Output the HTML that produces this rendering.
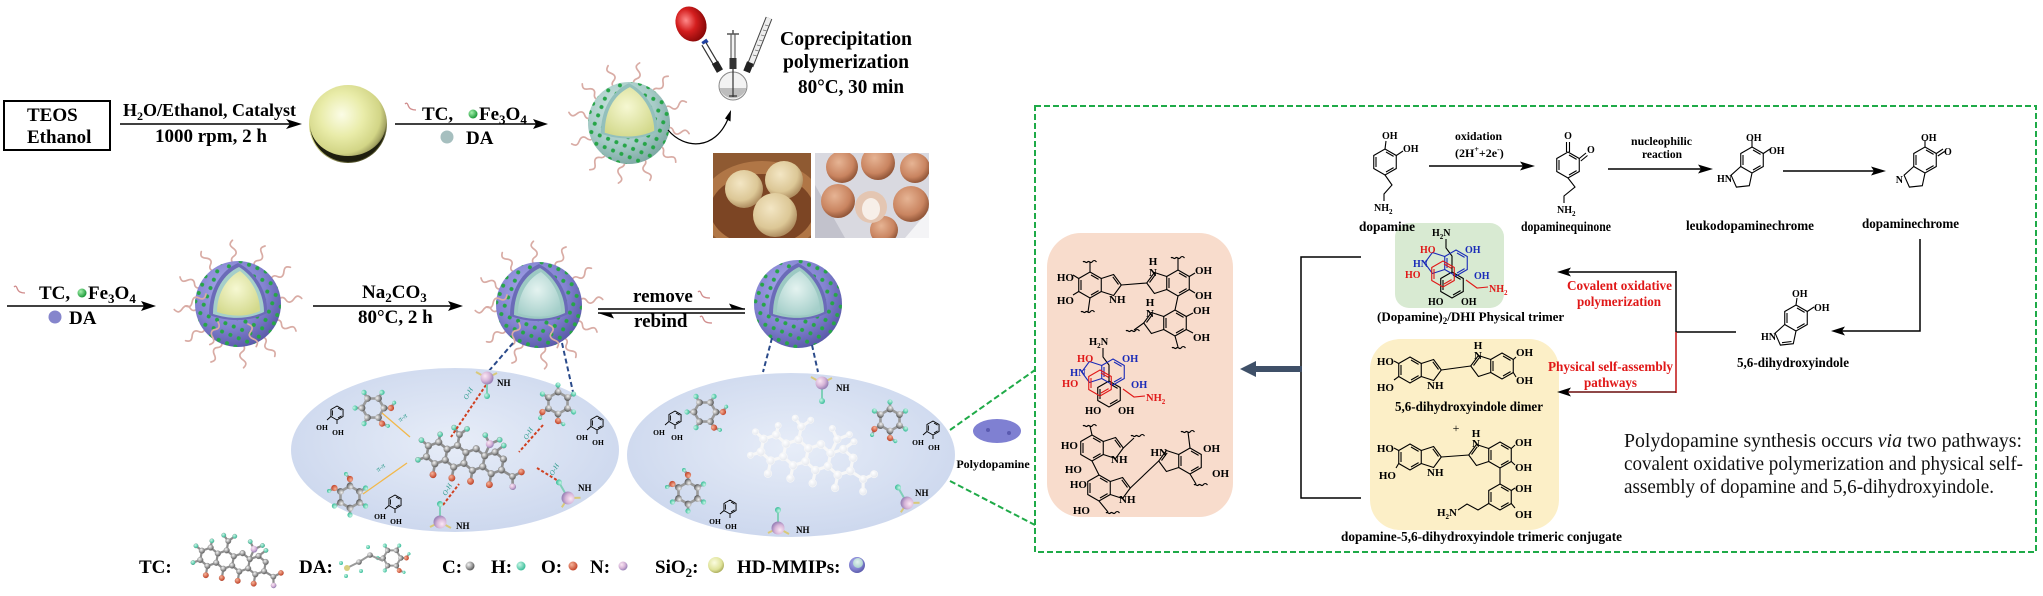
<!DOCTYPE html>
<html><head><meta charset="utf-8"><title>HD-MMIPs scheme</title>
<style>html,body{margin:0;padding:0;background:#fff;width:2043px;height:596px;overflow:hidden}svg{display:block}</style>
</head><body>
<svg xmlns="http://www.w3.org/2000/svg" width="2043" height="596" viewBox="0 0 2043 596" font-family="'Liberation Serif', serif">
<defs>
<radialGradient id="gY" cx="0.42" cy="0.38" r="0.62"><stop offset="0" stop-color="#fbfce6"/><stop offset="0.45" stop-color="#e9eca9"/><stop offset="0.8" stop-color="#d2d586"/><stop offset="0.93" stop-color="#a2a262"/><stop offset="1" stop-color="#505028"/></radialGradient>
<radialGradient id="gYl" cx="0.4" cy="0.35" r="0.65"><stop offset="0" stop-color="#fbfce0"/><stop offset="0.7" stop-color="#dfe39a"/><stop offset="1" stop-color="#aeb060"/></radialGradient>
<radialGradient id="gP" cx="0.4" cy="0.35" r="0.7"><stop offset="0" stop-color="#acacee"/><stop offset="0.6" stop-color="#8282d0"/><stop offset="1" stop-color="#5656a6"/></radialGradient>
<radialGradient id="gT" cx="0.4" cy="0.35" r="0.7"><stop offset="0" stop-color="#d2e8e4"/><stop offset="0.6" stop-color="#a6cbc7"/><stop offset="1" stop-color="#7aa5a1"/></radialGradient>
<radialGradient id="gCore" cx="0.45" cy="0.4" r="0.65"><stop offset="0" stop-color="#f6f8d2"/><stop offset="1" stop-color="#d3d98c"/></radialGradient>
<radialGradient id="gHol" cx="0.45" cy="0.4" r="0.65"><stop offset="0" stop-color="#e4f3f0"/><stop offset="1" stop-color="#a5cfca"/></radialGradient>
<radialGradient id="gE" cx="0.5" cy="0.45" r="0.55"><stop offset="0" stop-color="#e7edf8"/><stop offset="1" stop-color="#cdd8ee"/></radialGradient>
<radialGradient id="gG" cx="0.35" cy="0.35" r="0.65"><stop offset="0" stop-color="#f4f4f4"/><stop offset="0.6" stop-color="#a0a0a0"/><stop offset="1" stop-color="#5c5c5c"/></radialGradient>
<radialGradient id="gW" cx="0.35" cy="0.35" r="0.65"><stop offset="0" stop-color="#ffffff"/><stop offset="1" stop-color="#e6e9ef"/></radialGradient>
<radialGradient id="gH" cx="0.35" cy="0.35" r="0.65"><stop offset="0" stop-color="#c8f6e6"/><stop offset="1" stop-color="#3fbf9c"/></radialGradient>
<radialGradient id="gO" cx="0.35" cy="0.35" r="0.65"><stop offset="0" stop-color="#f7b49a"/><stop offset="1" stop-color="#c4472c"/></radialGradient>
<radialGradient id="gN" cx="0.35" cy="0.35" r="0.65"><stop offset="0" stop-color="#fbe8f4"/><stop offset="0.6" stop-color="#d6b4d8"/><stop offset="1" stop-color="#9c84b8"/></radialGradient>
<radialGradient id="gGr" cx="0.35" cy="0.35" r="0.65"><stop offset="0" stop-color="#a6f2ae"/><stop offset="1" stop-color="#1e9a3a"/></radialGradient>
<radialGradient id="gBal" cx="0.4" cy="0.35" r="0.65"><stop offset="0" stop-color="#ff8a8a"/><stop offset="0.5" stop-color="#d41e1e"/><stop offset="1" stop-color="#8a0808"/></radialGradient>
<radialGradient id="gBun" cx="0.4" cy="0.35" r="0.65"><stop offset="0" stop-color="#f3e6c4"/><stop offset="0.7" stop-color="#dcc796"/><stop offset="1" stop-color="#b08f62"/></radialGradient>
<radialGradient id="gBr" cx="0.4" cy="0.35" r="0.65"><stop offset="0" stop-color="#e6b494"/><stop offset="0.7" stop-color="#c98460"/><stop offset="1" stop-color="#94583a"/></radialGradient>
<pattern id="pd" width="9" height="9" patternUnits="userSpaceOnUse" patternTransform="rotate(22)"><circle cx="4.5" cy="4.5" r="2" fill="#26a548"/></pattern>
<path id="hr" d="M0,0 c3,-3.5 6,-3.5 8,0 s5,3.5 8,0 s5,-3.5 8,0" fill="none" stroke="#d9aca5" stroke-width="1.7" stroke-linecap="round"/>
<path id="hx" d="M0,-13 L11.26,-6.5 L11.26,6.5 L0,13 L-11.26,6.5 L-11.26,-6.5Z" fill="none"/>
<g id="bz"><use href="#hx"/><path d="M1,-10 L8.6,-5.6 M8.6,5.6 L1,10 M-9,5 L-9,-5" fill="none"/></g>
<path id="pR" d="M11.26,6.5 L23.6,10.5 L31.3,0 L23.6,-10.5 L11.26,-6.5" fill="none"/>
<path id="pRd" d="M28.5,-0.5 L22.8,-8.2" fill="none"/>
<path id="pLL" d="M0,13 L-2.7,25.7 L-15.6,27.1 L-20.9,15.2 L-11.26,6.5" fill="none"/>
<path id="wv" d="M0,0 c1.5,-2 3,2 4.5,0 s3,2 4.5,0 s3,-2 4.5,0" fill="none"/>
<path id="lbp" d="M0,-7 L6.06,-3.5 L6.06,3.5 L0,7 L-6.06,3.5 L-6.06,-3.5Z M1,-5 L4.6,-2.9 M4.6,2.9 L1,5 M-4.6,2.6 L-4.6,-2.6 M-6.06,3.5 L-10,7 M0,7 L0,11" fill="none" stroke="#000" stroke-width="0.9"/>
<g id="brg">
<path d="M0,-11 L9.5,-5.5 L9.5,5.5 L0,11 L-9.5,5.5 L-9.5,-5.5Z M0,-11 L0,-18 M9.5,-5.5 L15.6,-9 M-9.5,-5.5 L-15.6,-9 M-9.5,5.5 L-15.6,9 M9.5,5.5 L15.6,9 L21,6 M0,11 L0,18 L4,23" fill="none" stroke="#9a9a9a" stroke-width="2.6"/>
<circle cx="0" cy="-11" r="3.4" fill="url(#gG)"/><circle cx="9.5" cy="-5.5" r="3.4" fill="url(#gG)"/><circle cx="9.5" cy="5.5" r="3.4" fill="url(#gG)"/><circle cx="0" cy="11" r="3.4" fill="url(#gG)"/><circle cx="-9.5" cy="5.5" r="3.4" fill="url(#gG)"/><circle cx="-9.5" cy="-5.5" r="3.4" fill="url(#gG)"/>
<circle cx="0" cy="-18" r="2.6" fill="url(#gH)"/><circle cx="15.6" cy="-9" r="2.6" fill="url(#gH)"/><circle cx="-15.6" cy="-9" r="2.6" fill="url(#gH)"/><circle cx="-15.6" cy="9" r="2.6" fill="url(#gH)"/>
<circle cx="15.6" cy="9" r="3.1" fill="url(#gO)"/><circle cx="0" cy="18" r="3.1" fill="url(#gO)"/>
<circle cx="21" cy="6" r="2" fill="url(#gH)"/><circle cx="4" cy="23" r="2" fill="url(#gH)"/>
</g>
<g id="nh"><path d="M0,0 L-11,-6 M0,0 L10,-5" stroke="#d9c97a" stroke-width="2"/><path d="M0,0 L0,18" stroke="#7fcfb8" stroke-width="2"/><circle r="6.5" fill="url(#gN)"/><circle cy="18" r="3" fill="url(#gH)"/></g>
<g id="tc">
<path d="M-38.1,-5.5 L-28.6,-11 L-19.05,-5.5 L-9.5,-11 L0,-5.5 L9.5,-11 L19.05,-5.5 L28.6,-11 L38.1,-5.5 M-38.1,5.5 L-28.6,11 L-19.05,5.5 L-9.5,11 L0,5.5 L9.5,11 L19.05,5.5 L28.6,11 L38.1,5.5 M-38.1,-5.5 L-38.1,5.5 M-19.05,-5.5 L-19.05,5.5 M0,-5.5 L0,5.5 M19.05,-5.5 L19.05,5.5 M38.1,-5.5 L38.1,5.5 M-28.6,11 L-28.6,22 M-9.5,11 L-9.5,22 M9.5,11 L9.5,22 M28.6,11 L28.6,22 M38.1,5.5 L50,10 L58,4 M50,10 L52,20 M-9.5,-11 L-9.5,-22 L-16,-28 M-9.5,-22 L-3,-29 M19.05,-5.5 L22,-18 L16,-26 M22,-18 L31,-24 M28.6,-11 L36,-19 M-38.1,-5.5 L-46,-10 M-38.1,5.5 L-46,10 M-28.6,-11 L-28.6,-19" fill="none" stroke-width="2.6"/>
<g stroke-width="0.5">
<circle cx="-38.1" cy="-5.5" r="3.4"/><circle cx="-28.6" cy="-11" r="3.4"/><circle cx="-19.05" cy="-5.5" r="3.4"/><circle cx="-9.5" cy="-11" r="3.4"/><circle cx="0" cy="-5.5" r="3.4"/><circle cx="9.5" cy="-11" r="3.4"/><circle cx="19.05" cy="-5.5" r="3.4"/><circle cx="28.6" cy="-11" r="3.4"/><circle cx="38.1" cy="-5.5" r="3.4"/>
<circle cx="-38.1" cy="5.5" r="3.4"/><circle cx="-28.6" cy="11" r="3.4"/><circle cx="-19.05" cy="5.5" r="3.4"/><circle cx="-9.5" cy="11" r="3.4"/><circle cx="0" cy="5.5" r="3.4"/><circle cx="9.5" cy="11" r="3.4"/><circle cx="19.05" cy="5.5" r="3.4"/><circle cx="28.6" cy="11" r="3.4"/><circle cx="38.1" cy="5.5" r="3.4"/>
<circle cx="-28.6" cy="22" r="3.2"/><circle cx="-9.5" cy="22" r="3.2"/><circle cx="9.5" cy="22" r="3.2"/><circle cx="28.6" cy="22" r="3.2"/><circle cx="50" cy="10" r="3.2"/><circle cx="58" cy="4" r="3"/><circle cx="52" cy="20" r="3"/><circle cx="-9.5" cy="-22" r="3.2"/><circle cx="-16" cy="-28" r="2.6"/><circle cx="-3" cy="-29" r="2.6"/><circle cx="22" cy="-18" r="3.2"/><circle cx="16" cy="-26" r="2.6"/><circle cx="31" cy="-24" r="2.6"/><circle cx="36" cy="-19" r="2.6"/><circle cx="-46" cy="-10" r="2.6"/><circle cx="-46" cy="10" r="2.6"/><circle cx="-28.6" cy="-19" r="2.6"/>
</g>
</g>
<g id="tcx">
<circle cx="-28.6" cy="22" r="3.4" fill="url(#gO)"/><circle cx="-9.5" cy="22" r="3.4" fill="url(#gO)"/><circle cx="9.5" cy="22" r="3.4" fill="url(#gO)"/><circle cx="28.6" cy="22" r="3.4" fill="url(#gO)"/><circle cx="58" cy="4" r="3.2" fill="url(#gO)"/><circle cx="52" cy="20" r="3.2" fill="url(#gN)"/><circle cx="22" cy="-18" r="4" fill="url(#gN)"/>
<circle cx="-16" cy="-28" r="2.6" fill="url(#gH)"/><circle cx="-3" cy="-29" r="2.6" fill="url(#gH)"/><circle cx="16" cy="-26" r="2.6" fill="url(#gH)"/><circle cx="31" cy="-24" r="2.6" fill="url(#gH)"/><circle cx="36" cy="-19" r="2.6" fill="url(#gH)"/><circle cx="-46" cy="-10" r="2.6" fill="url(#gH)"/><circle cx="-46" cy="10" r="2.6" fill="url(#gH)"/><circle cx="-28.6" cy="-19" r="2.6" fill="url(#gH)"/>
</g>
<path id="c1" d="M0,-41 C-16,-34 -29,-16 -29,11 C-10,18 12,18 29,9 C30,-12 18,-32 0,-41Z"/>
<path id="c2" d="M1,-37 C-14,-30 -25,-14 -25,10 C-8,15.5 10,15.5 26,8 C26,-10 16,-28 1,-37Z"/>
<path id="c3" d="M2,-33 C-10,-27 -21,-12 -21,8 C-6,13 9,13 22,7 C22,-9 14,-24 2,-33Z"/>
<clipPath id="ph1"><rect x="713" y="153" width="98" height="85"/></clipPath>
<clipPath id="ph2"><rect x="815" y="153" width="114" height="85"/></clipPath>
<clipPath id="sy"><circle cx="348" cy="124" r="39"/></clipPath>
</defs>
<rect width="2043" height="596" fill="#fff"/>

<!-- ===== Row 1 ===== -->
<rect x="4" y="101" width="106" height="49" fill="none" stroke="#000" stroke-width="2"/>
<g font-weight="bold" font-size="19" fill="#000">
<text x="27" y="121">TEOS</text>
<text x="27" y="143">Ethanol</text>
<text x="123" y="116" font-size="18">H<tspan font-size="12" dy="4">2</tspan><tspan dy="-4">O/Ethanol, Catalyst</tspan></text>
<text x="155" y="142">1000 rpm, 2 h</text>
<text x="422" y="120">TC,</text>
<text x="479" y="120">Fe<tspan font-size="13" dy="4">3</tspan><tspan dy="-4">O</tspan><tspan font-size="13" dy="4">4</tspan></text>
<text x="466" y="144">DA</text>
<text x="780" y="45" font-size="20" textLength="132" lengthAdjust="spacingAndGlyphs">Coprecipitation</text>
<text x="783" y="68" font-size="20" textLength="126" lengthAdjust="spacingAndGlyphs">polymerization</text>
<text x="798" y="93" font-size="20" textLength="106" lengthAdjust="spacingAndGlyphs">80°C, 30 min</text>
</g>
<line x1="120" y1="124" x2="292" y2="124" stroke="#000" stroke-width="1.5"/>
<path d="M302,124 L286,119 L290,124 L286,129Z" fill="#000"/>
<circle cx="348" cy="124" r="39" fill="url(#gY)"/>
<g clip-path="url(#sy)"><path d="M310,124 A38,38 0 0,0 386,124 A38,32 0 0,1 310,124Z" fill="#1e1e0e"/></g>
<path d="M405,104 q2,-2 3,1 t3,4 t5,1" stroke="#d08c8c" fill="none" stroke-width="1.3"/>
<circle cx="473" cy="114" r="4.5" fill="url(#gGr)"/>
<circle cx="447" cy="137" r="6.5" fill="#a6bfbf"/>
<line x1="395" y1="124" x2="538" y2="124" stroke="#000" stroke-width="1.5"/>
<path d="M548,124 L533,119 L536,124 L533,129Z" fill="#000"/>

<!-- sphere row1 -->
<g transform="translate(629,123)">
<use href="#hr" transform="rotate(-80) translate(37,0)"/><use href="#hr" transform="rotate(-50) translate(37,0)"/><use href="#hr" transform="rotate(-20) translate(37,0)"/><use href="#hr" transform="rotate(10) translate(37,0)"/><use href="#hr" transform="rotate(40) translate(37,0)"/><use href="#hr" transform="rotate(70) translate(37,0)"/><use href="#hr" transform="rotate(100) translate(37,0)"/><use href="#hr" transform="rotate(130) translate(37,0)"/><use href="#hr" transform="rotate(160) translate(37,0)"/><use href="#hr" transform="rotate(190) translate(37,0)"/><use href="#hr" transform="rotate(220) translate(37,0)"/><use href="#hr" transform="rotate(250) translate(37,0)"/>
<circle r="41" fill="url(#gT)"/><circle r="41" fill="url(#pd)"/>
<use href="#c1" fill="#93c0bc" transform="scale(0.97)"/>
<use href="#c2" fill="url(#gCore)" transform="scale(0.97)"/>
</g>
<path d="M668,130 C685,150 715,150 728,119" stroke="#000" stroke-width="1.2" fill="none"/>
<path d="M731,110 L730.5,121.5 L725,118.5Z" fill="#000"/>

<!-- flask -->
<ellipse cx="691" cy="24" rx="15" ry="18" transform="rotate(-25 691 24)" fill="url(#gBal)"/>
<rect x="702" y="40" width="6" height="4" fill="#2040a0" transform="rotate(-35 705 42)"/>
<path d="M704,44 L717,66" stroke="#333" stroke-width="6"/><path d="M704,44 L717,66" stroke="#fff" stroke-width="3.6"/>
<rect x="714" y="62" width="7" height="10" fill="#222" transform="rotate(-30 717 67)"/>
<path d="M733,34 L733,60" stroke="#444" stroke-width="5"/><path d="M733,34 L733,60" stroke="#f2f2f2" stroke-width="3"/>
<path d="M727,34 L739,34 M733,30 L733,34" stroke="#555" stroke-width="1.5"/>
<rect x="729.5" y="58" width="7" height="11" fill="#333"/>
<path d="M750,66 L769,18" stroke="#444" stroke-width="7"/><path d="M750,66 L769,18" stroke="#eeeeee" stroke-width="5"/>
<path d="M753,55 l4,1 M755,50 l4,1 M757,45 l4,1 M759,40 l4,1 M761,35 l4,1 M763,30 l4,1 M765,25 l4,1" stroke="#777" stroke-width="0.8"/>
<rect x="745" y="62" width="7" height="10" fill="#222" transform="rotate(22 748 67)"/>
<circle cx="733" cy="86" r="14" fill="#f3f3f3" stroke="#888" stroke-width="1"/>
<path d="M719.5,88 A14,14 0 0,0 746.5,88 Z" fill="#bdbdbd"/>
<path d="M733,69 L733,97 M729,96 L737,96" stroke="#333" stroke-width="1.2"/>

<!-- photos -->
<g clip-path="url(#ph1)">
<rect x="713" y="153" width="98" height="85" fill="#8f5a32"/>
<ellipse cx="762" cy="207" rx="62" ry="46" fill="#b07646"/>
<ellipse cx="762" cy="210" rx="52" ry="36" fill="#7c4524"/>
<circle cx="744" cy="189" r="19" fill="url(#gBun)"/>
<circle cx="784" cy="180" r="19" fill="url(#gBun)"/>
<circle cx="775" cy="215" r="22" fill="url(#gBun)"/>
</g>
<g clip-path="url(#ph2)">
<rect x="815" y="153" width="114" height="85" fill="#d9d9e0"/>
<path d="M815,185 L845,238 L815,238Z" fill="#c2c2cc"/>
<path d="M905,238 L929,210 L929,238Z" fill="#f4f4f6"/>
<circle cx="842" cy="167" r="16" fill="url(#gBr)"/>
<circle cx="878" cy="163" r="17" fill="url(#gBr)"/>
<circle cx="915" cy="168" r="15" fill="url(#gBr)"/>
<circle cx="838" cy="201" r="17" fill="url(#gBr)"/>
<circle cx="911" cy="204" r="18" fill="url(#gBr)"/>
<circle cx="884" cy="230" r="14" fill="url(#gBr)"/>
<circle cx="871" cy="207" r="16" fill="#e4c6b2"/>
<ellipse cx="871" cy="209" rx="9" ry="11" fill="#f7efe8"/>
</g>

<!-- ===== Row 2 ===== -->
<g font-weight="bold" font-size="19" fill="#000">
<text x="39" y="299">TC,</text>
<text x="88" y="299">Fe<tspan font-size="13" dy="4">3</tspan><tspan dy="-4">O</tspan><tspan font-size="13" dy="4">4</tspan></text>
<text x="69" y="324">DA</text>
<text x="362" y="298">Na<tspan font-size="13" dy="4">2</tspan><tspan dy="-4">CO</tspan><tspan font-size="13" dy="4">3</tspan></text>
<text x="358" y="323">80°C, 2 h</text>
<text x="633" y="302">remove</text>
<text x="634" y="327">rebind</text>
</g>
<path d="M14,287 q2,-2 3,1 t3,4 t5,1" stroke="#d08c8c" fill="none" stroke-width="1.3"/>
<circle cx="82" cy="293" r="4.5" fill="url(#gGr)"/>
<circle cx="55" cy="317" r="6.5" fill="#8585cc"/>
<line x1="7" y1="306" x2="146" y2="306" stroke="#000" stroke-width="1.5"/>
<path d="M156,306 L141,301 L144,306 L141,311Z" fill="#000"/>
<line x1="313" y1="306" x2="453" y2="306" stroke="#000" stroke-width="1.5"/>
<path d="M463,306 L448,301 L451,306 L448,311Z" fill="#000"/>
<path d="M598,309 L745,309 M598,313 L745,313" stroke="#000" stroke-width="1.4"/>
<path d="M745,309 L729,303.5 L732,309Z" fill="#000"/>
<path d="M598,313 L614,318.5 L611,313Z" fill="#000"/>
<path d="M698,292 q2,-2 3,1 t3,4 t6,1" stroke="#d08c8c" fill="none" stroke-width="1.3"/>
<path d="M700,317 q2,-2 3,1 t3,4 t6,1" stroke="#d08c8c" fill="none" stroke-width="1.3"/>

<!-- sphere 2 -->
<g transform="translate(238,304)">
<use href="#hr" transform="rotate(-95) translate(40,0)"/><use href="#hr" transform="rotate(-65) translate(40,0)"/><use href="#hr" transform="rotate(-35) translate(40,0)"/><use href="#hr" transform="rotate(-5) translate(40,0)"/><use href="#hr" transform="rotate(25) translate(40,0)"/><use href="#hr" transform="rotate(55) translate(40,0)"/><use href="#hr" transform="rotate(85) translate(40,0)"/><use href="#hr" transform="rotate(115) translate(40,0)"/><use href="#hr" transform="rotate(145) translate(40,0)"/><use href="#hr" transform="rotate(175) translate(40,0)"/><use href="#hr" transform="rotate(205) translate(40,0)"/><use href="#hr" transform="rotate(235) translate(40,0)"/>
<circle r="43" fill="url(#gP)"/><circle r="43" fill="url(#pd)"/>
<use href="#c1" fill="#6b6bb8"/><use href="#c2" fill="#a5cfca"/><use href="#c3" fill="url(#gCore)"/>
<use href="#hr" transform="translate(-20,18) rotate(110)"/><use href="#hr" transform="translate(10,20) rotate(70)"/><use href="#hr" transform="translate(-32,-10) rotate(150)"/>
</g>
<!-- sphere 3 -->
<g transform="translate(539,305)">
<use href="#hr" transform="rotate(-95) translate(40,0)"/><use href="#hr" transform="rotate(-65) translate(40,0)"/><use href="#hr" transform="rotate(-35) translate(40,0)"/><use href="#hr" transform="rotate(-5) translate(40,0)"/><use href="#hr" transform="rotate(25) translate(40,0)"/><use href="#hr" transform="rotate(55) translate(40,0)"/><use href="#hr" transform="rotate(85) translate(40,0)"/><use href="#hr" transform="rotate(115) translate(40,0)"/><use href="#hr" transform="rotate(145) translate(40,0)"/><use href="#hr" transform="rotate(175) translate(40,0)"/><use href="#hr" transform="rotate(205) translate(40,0)"/><use href="#hr" transform="rotate(235) translate(40,0)"/>
<circle r="43" fill="url(#gP)"/><circle r="43" fill="url(#pd)"/>
<use href="#c1" fill="#6b6bb8"/><use href="#c2" fill="#9cc9c3"/><use href="#c3" fill="url(#gHol)"/>
<use href="#hr" transform="translate(-20,18) rotate(110)"/><use href="#hr" transform="translate(10,20) rotate(70)"/><use href="#hr" transform="translate(-32,-10) rotate(150)"/>
</g>
<!-- sphere 4 -->
<g transform="translate(798,304)">
<circle r="44" fill="url(#gP)"/><circle r="44" fill="url(#pd)"/>
<use href="#c1" fill="#6b6bb8"/><use href="#c2" fill="#9cc9c3"/><use href="#c3" fill="url(#gHol)"/>
</g>

<!-- dashed connectors -->
<g stroke="#2a4a8a" stroke-width="2" stroke-dasharray="5 3" fill="none">
<path d="M513,343 L488,372"/><path d="M562,343 L573,392"/><path d="M772,338 L763,372"/><path d="M812,345 L818,372"/>
</g>

<!-- ellipses -->
<ellipse cx="455" cy="450" rx="164" ry="82" fill="url(#gE)"/>
<ellipse cx="791" cy="455" rx="164" ry="82" fill="url(#gE)"/>

<!-- ellipse 1 content -->
<use href="#brg" transform="translate(373,408) rotate(-30)"/>
<use href="#brg" transform="translate(558,403) rotate(60)"/>
<use href="#brg" transform="translate(350,497) rotate(180)"/>
<g stroke="#f2b84a" stroke-width="1.3"><path d="M382,413 L410,437"/><path d="M407,463 L363,494"/></g>
<g transform="translate(465,458) rotate(10)"><use href="#tc" fill="url(#gG)" stroke="#8e8e8e"/><use href="#tcx"/></g>
<g stroke="#d04020" stroke-width="2" stroke-dasharray="3 2" fill="none">
<path d="M486,385 L451,437"/><path d="M443,505 L459,484"/><path d="M537,468 L560,482"/><path d="M543,425 L519,452"/>
</g>
<use href="#nh" transform="translate(487,378)"/>
<use href="#nh" transform="translate(440,522) rotate(180)"/>
<use href="#nh" transform="translate(568,498) rotate(150)"/>
<use href="#lbp" x="337" y="413"/><use href="#lbp" x="395" y="502"/><use href="#lbp" x="597" y="423"/>
<g font-size="7.5" font-weight="bold" text-anchor="middle">
<text x="322" y="430">OH</text><text x="338" y="435">OH</text>
<text x="380" y="519">OH</text><text x="396" y="524">OH</text>
<text x="582" y="440">OH</text><text x="598" y="445">OH</text>
<text x="659" y="435">OH</text><text x="677" y="440">OH</text>
</g>
<g font-size="9" font-weight="bold">
<text x="497" y="386">NH</text><text x="456" y="529">NH</text><text x="578" y="491">NH</text>
</g>
<g font-size="7" fill="#2a9a8a" font-style="italic">
<text transform="translate(467,400) rotate(-60)">O-H</text>
<text transform="translate(446,496) rotate(-60)">O-H</text>
<text transform="translate(553,476) rotate(-60)">O-H</text>
<text transform="translate(527,440) rotate(-60)">O-H</text>
<text transform="translate(400,422) rotate(-35)">π-π</text>
<text transform="translate(378,472) rotate(-35)">π-π</text>
</g>

<!-- ellipse 2 content -->
<use href="#brg" transform="translate(705,412) rotate(-30)"/>
<use href="#brg" transform="translate(890,420) rotate(60)"/>
<use href="#brg" transform="translate(688,493) rotate(180)"/>
<g transform="translate(807,455) rotate(12) scale(1.2)"><use href="#tc" fill="url(#gW)" stroke="#f7f7f7"/></g>
<use href="#nh" transform="translate(822,383)"/>
<use href="#nh" transform="translate(778,528) rotate(180)"/>
<use href="#nh" transform="translate(907,503) rotate(150)"/>
<use href="#lbp" x="675" y="418"/><use href="#lbp" x="730" y="507"/><use href="#lbp" x="933" y="428"/>
<g font-size="7.5" font-weight="bold" text-anchor="middle">
<text x="715" y="524">OH</text><text x="731" y="529">OH</text>
<text x="918" y="445">OH</text><text x="934" y="450">OH</text>
</g>
<g font-size="9" font-weight="bold">
<text x="836" y="391">NH</text><text x="796" y="533">NH</text><text x="915" y="496">NH</text>
</g>

<!-- polydopamine -->
<ellipse cx="997" cy="431" rx="24" ry="12" fill="#7f80d2"/>
<circle cx="988" cy="430" r="2" fill="#5a5ab0"/><circle cx="1009" cy="433" r="2" fill="#5a5ab0"/>
<text x="993" y="468" font-size="12" font-weight="bold" text-anchor="middle">Polydopamine</text>
<g stroke="#1faa48" stroke-width="2" stroke-dasharray="6 3" fill="none">
<path d="M950,430 L1035,370"/><path d="M950,481 L1035,525"/>
<rect x="1035" y="106" width="1001" height="446"/>
</g>

<!-- legend -->
<g font-weight="bold" font-size="19">
<text x="139" y="573">TC:</text>
<text x="299" y="573">DA:</text>
<text x="442" y="573">C:</text>
<text x="491" y="573">H:</text>
<text x="541" y="573">O:</text>
<text x="590" y="573">N:</text>
<text x="655" y="573">SiO<tspan font-size="13" dy="4">2</tspan><tspan dy="-4">:</tspan></text>
<text x="737" y="573">HD-MMIPs:</text>
</g>
<g transform="translate(233,561) rotate(10) scale(0.85)"><use href="#tc" fill="url(#gG)" stroke="#8e8e8e"/><use href="#tcx"/></g>
<use href="#brg" transform="translate(392,558) rotate(-30) scale(0.8)"/>
<path d="M383,561 L370,555 L359,562 L347,568" stroke="#9a9a9a" stroke-width="2" fill="none"/>
<circle cx="370" cy="555" r="2.8" fill="url(#gG)"/><circle cx="359" cy="562" r="2.8" fill="url(#gG)"/><circle cx="347" cy="568" r="3" fill="#d8cf80"/>
<circle cx="368" cy="547" r="2" fill="url(#gH)"/><circle cx="361" cy="571" r="2" fill="url(#gH)"/><circle cx="341" cy="563" r="2" fill="url(#gH)"/><circle cx="346" cy="576" r="2" fill="url(#gH)"/>
<circle cx="470" cy="566" r="4.5" fill="url(#gG)"/>
<circle cx="521" cy="566" r="4.5" fill="url(#gH)"/>
<circle cx="573" cy="566" r="4.5" fill="url(#gO)"/>
<circle cx="623" cy="566" r="4.5" fill="url(#gN)"/>
<circle cx="716" cy="565" r="8" fill="url(#gYl)"/>
<circle cx="857" cy="565" r="8" fill="url(#gP)"/><circle cx="858" cy="563" r="5" fill="url(#gHol)"/>

<!-- ===== Right panel ===== -->
<rect x="1047" y="233" width="186" height="284" rx="34" fill="#f8dccc"/>
<rect x="1370" y="339" width="189" height="191" rx="30" fill="#fcefc7"/>
<rect x="1395" y="223" width="109" height="85" rx="14" fill="#d8ead2"/>

<!-- top row structures -->
<g stroke="#000" stroke-width="1.1" fill="none">
<use href="#bz" x="1385" y="162"/>
<path d="M1385,149 L1386,141 M1396.3,155.5 L1403,151 M1385,175 L1392,185 L1384,194 L1384,201"/>
<use href="#bz" x="1568" y="165"/>
<path d="M1566.5,152 L1566.5,142 M1569.5,152 L1569.5,142 M1579.3,158.5 L1586,153 M1580.8,161 L1587.5,155.5 M1568,178 L1575,187 L1564,196 L1564,203"/>
<use href="#bz" x="1752" y="160"/><use href="#pLL" x="1752" y="160"/>
<path d="M1752,147 L1752,140 M1763.3,153.5 L1770,149"/>
<use href="#bz" x="1925" y="160"/><use href="#pLL" x="1925" y="160"/>
<path d="M1925,147 L1925,140 M1936.3,153.5 L1943,149 M1937.8,156 L1944.5,151.5"/>
<use href="#bz" x="1796" y="318"/><use href="#pLL" x="1796" y="318"/>
<path d="M1791.5,341.5 L1782,342.7 M1796,305 L1797,298 M1807.3,311.5 L1814,307"/>
</g>
<g font-size="10" font-weight="bold">
<text x="1382" y="139">OH</text><text x="1403" y="152">OH</text>
<text x="1374" y="211">NH<tspan font-size="7" dy="3">2</tspan></text>
<text x="1568" y="139" text-anchor="middle">O</text><text x="1587" y="153">O</text>
<text x="1557" y="213">NH<tspan font-size="7" dy="3">2</tspan></text>
<text x="1746" y="141">OH</text><text x="1769" y="154">OH</text>
<text x="1732" y="182" text-anchor="end">HN</text>
<text x="1921" y="141">OH</text><text x="1944" y="155">O</text>
<text x="1903" y="183" text-anchor="end">N</text>
<text x="1792" y="297">OH</text><text x="1814" y="311">OH</text>
<text x="1776" y="340" text-anchor="end">HN</text>
</g>
<g font-weight="bold">
<text x="1455" y="140" font-size="12" textLength="47" lengthAdjust="spacingAndGlyphs">oxidation</text>
<text x="1455" y="157" font-size="12">(2H<tspan font-size="8" dy="-5">+</tspan><tspan dy="5">+2e</tspan><tspan font-size="8" dy="-5">-</tspan><tspan dy="5">)</tspan></text>
<text x="1631" y="145" font-size="12" textLength="61" lengthAdjust="spacingAndGlyphs">nucleophilic</text>
<text x="1642" y="158" font-size="12" textLength="40" lengthAdjust="spacingAndGlyphs">reaction</text>
<text x="1359" y="231" font-size="13.5" textLength="56" lengthAdjust="spacingAndGlyphs">dopamine</text>
<text x="1521" y="231" font-size="13.5" textLength="90" lengthAdjust="spacingAndGlyphs">dopaminequinone</text>
<text x="1686" y="230" font-size="13.5" textLength="128" lengthAdjust="spacingAndGlyphs">leukodopaminechrome</text>
<text x="1862" y="228" font-size="13.5" textLength="97" lengthAdjust="spacingAndGlyphs">dopaminechrome</text>
<text x="1737" y="367" font-size="13.5" textLength="112" lengthAdjust="spacingAndGlyphs">5,6-dihydroxyindole</text>
<text x="1377" y="321" font-size="13">(Dopamine)<tspan font-size="9" dy="3">2</tspan><tspan dy="-3">/DHI Physical trimer</tspan></text>
<text x="1395" y="411" font-size="13.5" textLength="148" lengthAdjust="spacingAndGlyphs">5,6-dihydroxyindole dimer</text>
<text x="1341" y="541" font-size="13.5" textLength="281" lengthAdjust="spacingAndGlyphs">dopamine-5,6-dihydroxyindole trimeric conjugate</text>
<g fill="#e01818" font-size="13.5">
<text x="1567" y="290" textLength="105" lengthAdjust="spacingAndGlyphs">Covalent oxidative</text>
<text x="1577" y="306" textLength="84" lengthAdjust="spacingAndGlyphs">polymerization</text>
<text x="1548" y="371" textLength="125" lengthAdjust="spacingAndGlyphs">Physical self-assembly</text>
<text x="1584" y="387" textLength="53" lengthAdjust="spacingAndGlyphs">pathways</text>
</g>
</g>
<text x="1456" y="432" font-size="12" text-anchor="middle">+</text>

<!-- arrows top row -->
<g stroke-width="1.5" fill="none">
<path d="M1429,166 L1527,166" stroke="#000"/>
<path d="M1608,169 L1705,169" stroke="#000"/>
<path d="M1783,171 L1878,171" stroke="#000"/>
<path d="M1920,239 L1920,331 L1840,331" stroke="#000"/>
<path d="M1736,332 L1676,332 M1676,271 L1676,332 M1676,272 L1566,272" stroke="#000"/>
<path d="M1676,332 L1676,393" stroke="#c01010"/>
<path d="M1676,392 L1566,392" stroke="#6a0c0c"/>
<path d="M1361,257 L1301,257 L1301,498 L1361,498" stroke="#000"/>
</g>
<g fill="#000">
<path d="M1535,166 L1520,161.5 L1523,166 L1520,170.5Z"/>
<path d="M1713,169 L1698,164.5 L1701,169 L1698,173.5Z"/>
<path d="M1886,171 L1871,166.5 L1874,171 L1871,175.5Z"/>
<path d="M1831,331 L1845,326.5 L1842,331 L1845,335.5Z"/>
<path d="M1557,272 L1571,267.5 L1568,272 L1571,276.5Z"/>
<path d="M1557,392 L1571,387.5 L1568,392 L1571,396.5Z"/>
</g>
<rect x="1252" y="366" width="50" height="6" fill="#3f5068"/>
<path d="M1240,369 L1256,361 L1256,377Z" fill="#3f5068"/>

<!-- green trimer -->
<g stroke-width="1.1" fill="none">
<use href="#bz" x="1452" y="285" stroke="#000"/>
<path d="M1446,239 L1446,248 L1452,256 L1452,272" stroke="#000"/>
<use href="#bz" x="1456" y="263" stroke="#1a2bb8"/>
<use href="#pR" transform="translate(1456,263) scale(-1,1)" stroke="#1a2bb8"/>
<use href="#bz" x="1443" y="274" stroke="#e01818"/>
<path d="M1466,280 L1477,288 L1488,287" stroke="#e01818"/>
</g>
<g font-size="10" font-weight="bold">
<text x="1432" y="236">H<tspan font-size="7" dy="3">2</tspan><tspan dy="-3">N</tspan></text>
<text x="1420" y="253" fill="#e01818">HO</text>
<text x="1465" y="253" fill="#1a2bb8">OH</text>
<text x="1413" y="267" fill="#1a2bb8">HN</text>
<text x="1405" y="278" fill="#e01818">HO</text>
<text x="1474" y="279" fill="#1a2bb8">OH</text>
<text x="1489" y="292" fill="#e01818">NH<tspan font-size="7" dy="3">2</tspan></text>
<text x="1428" y="305">HO</text>
<text x="1461" y="305">OH</text>
</g>

<!-- pink trimer copy -->
<g transform="translate(-343,109)">
<g stroke-width="1.1" fill="none">
<use href="#bz" x="1452" y="285" stroke="#000"/>
<path d="M1446,239 L1446,248 L1452,256 L1452,272" stroke="#000"/>
<use href="#bz" x="1456" y="263" stroke="#1a2bb8"/>
<use href="#pR" transform="translate(1456,263) scale(-1,1)" stroke="#1a2bb8"/>
<use href="#bz" x="1443" y="274" stroke="#e01818"/>
<path d="M1466,280 L1477,288 L1488,287" stroke="#e01818"/>
</g>
<g font-size="10.5" font-weight="bold">
<text x="1432" y="236">H<tspan font-size="7" dy="3">2</tspan><tspan dy="-3">N</tspan></text>
<text x="1420" y="253" fill="#e01818">HO</text>
<text x="1465" y="253" fill="#1a2bb8">OH</text>
<text x="1413" y="267" fill="#1a2bb8">HN</text>
<text x="1405" y="278" fill="#e01818">HO</text>
<text x="1474" y="279" fill="#1a2bb8">OH</text>
<text x="1489" y="292" fill="#e01818">NH<tspan font-size="7" dy="3">2</tspan></text>
<text x="1428" y="305">HO</text>
<text x="1461" y="305">OH</text>
</g>
</g>

<!-- pink box polymers -->
<g stroke="#000" stroke-width="1.1" fill="none">
<use href="#bz" x="1090" y="285"/><use href="#pR" x="1090" y="285"/><use href="#pRd" x="1090" y="285"/>
<path d="M1121.3,285 L1146.7,283"/>
<use href="#bz" x="1178" y="283"/>
<g transform="translate(1178,283) scale(-1,1)"><use href="#pR"/><use href="#pRd"/></g>
<path d="M1078.7,278.5 L1073,275 M1078.7,291.5 L1073,295 M1189.3,276.5 L1195,273 M1189.3,289.5 L1195,293"/>
<path d="M1090,272 L1090,262 M1090,298 L1088,312 M1178,270 L1178,258"/>
<use href="#wv" x="1083" y="262"/><use href="#wv" x="1081" y="312"/><use href="#wv" x="1171" y="258"/>
<use href="#bz" x="1175" y="323"/>
<g transform="translate(1175,323) scale(-1,1)"><use href="#pR"/><use href="#pRd"/></g>
<path d="M1178,296 L1175,310 M1186.3,316.5 L1193,313 M1186.3,329.5 L1193,333 M1143.7,323 L1134,330 M1175,336 L1178,347"/>
<use href="#wv" x="1126" y="331"/><use href="#wv" x="1172" y="348"/>
<use href="#bz" x="1092" y="448"/><use href="#pR" x="1092" y="448"/><use href="#pRd" x="1092" y="448"/>
<use href="#bz" x="1099" y="488"/><use href="#pR" x="1099" y="488"/><use href="#pRd" x="1099" y="488"/>
<path d="M1092,461 L1099,475 M1130.3,488 L1158.7,461 M1092,435 L1090,426 M1123.3,448 L1134,438 M1099,501 L1108,512"/>
<use href="#bz" x="1190" y="461"/>
<g transform="translate(1190,461) scale(-1,1)"><use href="#pR"/><use href="#pRd"/></g>
<path d="M1190,448 L1188,432 M1190,474 L1196,484"/>
<use href="#wv" x="1083" y="426"/><use href="#wv" x="1131" y="436"/><use href="#wv" x="1181" y="432"/><use href="#wv" x="1194" y="485"/><use href="#wv" x="1106" y="513"/>
</g>
<g font-size="11" font-weight="bold">
<text x="1074" y="281" text-anchor="end">HO</text>
<text x="1074" y="304" text-anchor="end">HO</text>
<text x="1109" y="303">NH</text>
<text x="1153" y="265" text-anchor="middle">H</text>
<text x="1153" y="276" text-anchor="middle">N</text>
<text x="1195" y="274">OH</text><text x="1195" y="299">OH</text>
<text x="1150" y="306" text-anchor="middle">H</text>
<text x="1150" y="317" text-anchor="middle">N</text>
<text x="1193" y="314">OH</text><text x="1193" y="341">OH</text>
<text x="1078" y="449" text-anchor="end">HO</text>
<text x="1082" y="473" text-anchor="end">HO</text>
<text x="1111" y="463">NH</text>
<text x="1087" y="488" text-anchor="end">HO</text>
<text x="1090" y="514" text-anchor="end">HO</text>
<text x="1119" y="503">NH</text>
<text x="1167" y="456" text-anchor="end">HN</text>
<text x="1203" y="452">OH</text><text x="1212" y="477">OH</text>
</g>

<!-- yellow box structures -->
<g stroke="#000" stroke-width="1.1" fill="none">
<use href="#bz" x="1410" y="370"/><use href="#pR" x="1410" y="370"/><use href="#pRd" x="1410" y="370"/>
<path d="M1441.3,370 L1470.7,366"/>
<use href="#bz" x="1502" y="366"/>
<g transform="translate(1502,366) scale(-1,1)"><use href="#pR"/><use href="#pRd"/></g>
<path d="M1398.7,363.5 L1394,361 M1398.7,376.5 L1394,380 M1513.3,359.5 L1516,357 M1513.3,372.5 L1516,377"/>
<use href="#bz" x="1410" y="457"/><use href="#pR" x="1410" y="457"/><use href="#pRd" x="1410" y="457"/>
<path d="M1441.3,457 L1468.7,455"/>
<use href="#bz" x="1500" y="455"/>
<g transform="translate(1500,455) scale(-1,1)"><use href="#pR"/><use href="#pRd"/></g>
<path d="M1500,468 L1500,484"/>
<use href="#bz" x="1500" y="497"/>
<path d="M1488.7,503.5 L1478,510 L1467,504 L1458,510 M1398.7,450.5 L1394,448 M1398.7,463.5 L1396,468 M1511.3,448.5 L1515,445 M1511.3,461.5 L1515,465 M1511.3,490.5 L1515,488 M1511.3,503.5 L1515,508"/>
</g>
<g font-size="11" font-weight="bold">
<text x="1394" y="365" text-anchor="end">HO</text>
<text x="1394" y="391" text-anchor="end">HO</text>
<text x="1427" y="389">NH</text>
<text x="1478" y="349" text-anchor="middle">H</text>
<text x="1478" y="359" text-anchor="middle">N</text>
<text x="1516" y="356">OH</text><text x="1516" y="384">OH</text>
<text x="1394" y="452" text-anchor="end">HO</text>
<text x="1396" y="479" text-anchor="end">HO</text>
<text x="1427" y="476">NH</text>
<text x="1476" y="437" text-anchor="middle">H</text>
<text x="1476" y="447" text-anchor="middle">N</text>
<text x="1515" y="446">OH</text><text x="1515" y="471">OH</text>
<text x="1515" y="492">OH</text><text x="1515" y="518">OH</text>
<text x="1457" y="516" text-anchor="end">H<tspan font-size="7" dy="3">2</tspan><tspan dy="-3">N</tspan></text>
</g>

<!-- paragraph -->
<g font-size="19.5" fill="#111">
<text x="1624" y="447" textLength="398" lengthAdjust="spacingAndGlyphs">Polydopamine synthesis occurs <tspan font-style="italic">via</tspan> two pathways:</text>
<text x="1624" y="470" textLength="399" lengthAdjust="spacingAndGlyphs">covalent oxidative polymerization and physical self-</text>
<text x="1624" y="493" textLength="370" lengthAdjust="spacingAndGlyphs">assembly of dopamine and 5,6-dihydroxyindole.</text>
</g>
</svg>
</body></html>
